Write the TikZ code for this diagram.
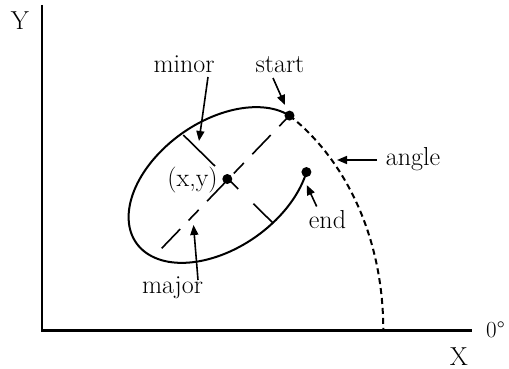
\documentclass[tikz,border=0pt]{standalone}
\usepackage{fontspec}
\usetikzlibrary{arrows.meta,calc}
\begin{document}
\begin{tikzpicture}[x=1pt,y=-1pt,
  lbl/.style={inner sep=0pt, anchor=base, font=\fontsize{26}{30}\selectfont},
  dotn/.style={circle, fill=black, inner sep=0pt, minimum size=10pt},
  pointer/.style={line width=1.6pt, -{Triangle[length=10pt,width=8pt]}},
  axis/.style={line width=2.4pt},
  ell/.style={line width=2pt},
  axline/.style={line width=1.6pt},
  anglearc/.style={line width=2pt, dash pattern=on 6pt off 4pt}]
\useasboundingbox (0,0) rectangle (509,369);
% axes
\coordinate (O) at (42,330.5);
\coordinate (Ytop) at (42,5);
\coordinate (Xend) at (472,330.5);
\draw[axis] (Ytop) -- (O) -- (Xend);
% labels
\node[lbl] (ylab) at (20,29.3) {Y};
\node[lbl] (xlab) at (459,365) {X};
\node[lbl, anchor=base west, font=\fontsize{23}{27}\selectfont] (zero) at (486,337) {0°};
\node[lbl] (minor) at (184,73) {minor};
\node[lbl] (startl) at (280,73) {start};
\node[lbl] (xy) at (192.5,186.5) {(x,y)};
\node[lbl] (major) at (172.5,293.5) {major};
\node[lbl] (endl) at (327.5,228) {end};
\node[lbl] (angle) at (413,165) {angle};
% ellipse arc
\begin{scope}[shift={(219,185)}, rotate=35]
  \coordinate (S) at (-15:101 and 63.5);
  \coordinate (E) at (-321.5:101 and 63.5);
  \draw[ell] (S) arc[start angle=-15, end angle=-321.5, x radius=101, y radius=63.5];
\end{scope}
% major axis (dashed)
\coordinate (J1) at (161.7,248.3);
\foreach \a/\b in {0/0.145, 0.21/0.29, 0.355/0.5, 0.564/0.643, 0.709/0.853, 0.92/1}
  \draw[axline] ($(J1)!\a!(S)$) -- ($(J1)!\b!(S)$);
% minor axis
\coordinate (M1) at (183.3,135);
\coordinate (M2) at (273.3,223.3);
\foreach \a/\b in {0/0.352, 0.47/0.611, 0.778/1}
  \draw[axline] ($(M1)!\a!(M2)$) -- ($(M1)!\b!(M2)$);
% angle arc
\coordinate (A0) at (383.3,330.5);
\draw[anglearc] (S) .. controls (340,155) and (383.3,230) .. (A0);
% dots
\node[dotn] (Sd) at (S) {};
\node[dotn] (Ed) at (E) {};
\node[dotn] (C) at (227.3,179) {};
% pointers
\coordinate (minorTail) at (208,77);   \coordinate (minorTip) at (199,141);
\coordinate (startTail) at (273,78);   \coordinate (startTip) at (285,105);
\coordinate (majorTail) at (198,280);  \coordinate (majorTip) at (193.5,225);
\coordinate (endTail) at (316.7,206.5);\coordinate (endTip) at (306.7,185);
\coordinate (angleTail) at (377,160);  \coordinate (angleTip) at (337,160);
\draw[pointer] (minorTail) -- (minorTip);
\draw[pointer] (startTail) -- (startTip);
\draw[pointer] (majorTail) -- (majorTip);
\draw[pointer] (endTail) -- (endTip);
\draw[pointer] (angleTail) -- (angleTip);
\end{tikzpicture}
\end{document}
